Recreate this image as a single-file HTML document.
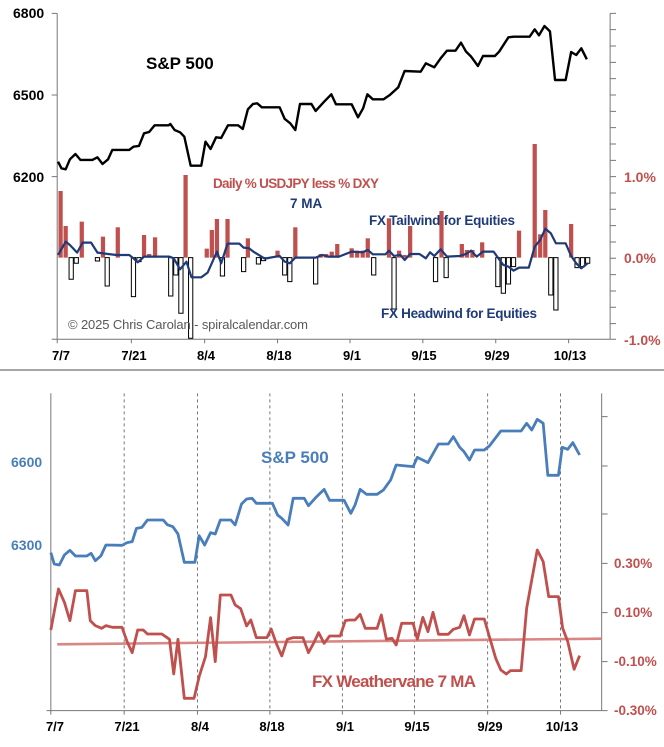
<!DOCTYPE html>
<html><head><meta charset="utf-8"><style>
html,body{margin:0;padding:0;background:#fff;overflow:hidden;}
svg{display:block;}
text{font-family:"Liberation Sans Narrow","Liberation Sans",sans-serif;font-weight:bold;}
.n{vector-effect:non-scaling-stroke;}
</style></head><body>
<svg width="664" height="747" viewBox="0 0 664 747" xmlns="http://www.w3.org/2000/svg">
<rect width="664" height="747" fill="#fff"/>
<line x1="0" y1="370" x2="664" y2="370" stroke="#888" stroke-width="1.5"/>
<!-- TOP CHART data -->
<g transform="scale(0.4237,0.3333)">
  <g stroke="#777" stroke-width="1" fill="none">
    <line class="n" x1="135" y1="40" x2="135" y2="1018"/>
    <line class="n" x1="135" y1="1018" x2="1440" y2="1018"/>
    <line class="n" x1="1440" y1="40" x2="1440" y2="1018"/>
    <path class="n" d="M122 40H135M122 285H135M122 530H135M122 1018H135"/>
    <path class="n" d="M1440 40h14M1440 89h14M1440 138h14M1440 187h14M1440 236h14M1440 285h14M1440 334h14M1440 383h14M1440 432h14M1440 481h14M1440 530h14M1440 579h14M1440 628h14M1440 677h14M1440 726h14M1440 775h14M1440 824h14M1440 873h14M1440 922h14M1440 971h14M1440 1018h14"/>
    <path class="n" d="M135 1018v12M310 1018v12M483 1018v12M655 1018v12M826 1018v12M998 1018v12M1170 1018v12M1342 1018v12"/>
  </g>
  <g id="redbars" fill="#c0504d"></g>
  <g id="whitebars" fill="#fff" stroke="#000"></g>
  <polyline id="ma1" class="n" fill="none" stroke="#1f3a78" stroke-width="2.2" stroke-linejoin="round"/>
  <polyline id="sp1" class="n" fill="none" stroke="#000" stroke-width="2.4" stroke-linejoin="round"/>
</g>
<g font-size="14" fill="#000">
  <text x="13" y="18">6800</text><text x="13" y="100">6500</text><text x="13" y="182">6200</text>
</g>
<g font-size="14" fill="#c0504d">
  <text x="624" y="182">1.0%</text><text x="624" y="263">0.0%</text><text x="624" y="345">-1.0%</text>
</g>
<g font-size="13" fill="#000" text-anchor="middle">
  <text x="61" y="360">7/7</text><text x="134" y="360">7/21</text><text x="206" y="360">8/4</text><text x="279" y="360">8/18</text><text x="352" y="360">9/1</text><text x="424" y="360">9/15</text><text x="497" y="360">9/29</text><text x="570" y="360">10/13</text>
</g>
<text x="146" y="69" font-size="17" fill="#000">S&amp;P 500</text>
<text x="213" y="188" font-size="13.5" fill="#c0504d" textLength="166">Daily % USDJPY less % DXY</text>
<text x="290" y="208" font-size="13.5" fill="#1f3a78">7 MA</text>
<text x="369" y="225" font-size="13.5" fill="#1f3a78" textLength="146">FX Tailwind for Equities</text>
<text x="381" y="318" font-size="13.5" fill="#1f3a78" textLength="156">FX Headwind for Equities</text>
<text x="68" y="329" font-size="13" fill="#595959" style="font-weight:normal" textLength="240">© 2025 Chris Carolan - spiralcalendar.com</text>
<!-- BOTTOM CHART -->
<g transform="translate(0,370) scale(0.4237,0.3333)">
  <g stroke="#555" stroke-width="0.8" stroke-dasharray="3,3">
    <path class="n" d="M293 70V1022M466 70V1022M637 70V1022M808 70V1022M978 70V1022M1151 70V1022M1323 70V1022"/>
  </g>
  <g stroke="#777" stroke-width="1" fill="none">
    <line class="n" x1="120" y1="70" x2="120" y2="1022"/>
    <line class="n" x1="110" y1="1022" x2="1420" y2="1022"/>
    <line class="n" x1="1420" y1="70" x2="1420" y2="1022"/>
    <path class="n" d="M1420 140h14M1420 288h14M1420 432h14M1420 580h14M1420 728h14M1420 875h14M1420 1022h14"/>
    <path class="n" d="M120 1022v12M293 1022v12M466 1022v12M637 1022v12M808 1022v12M978 1022v12M1151 1022v12M1323 1022v12"/>
  </g>
  <line class="n" x1="135" y1="823" x2="1420" y2="806" stroke="#d98785" stroke-width="2.6"/>
  <polyline id="sp2" class="n" fill="none" stroke="#4a7ebb" stroke-width="2.8" stroke-linejoin="round"/>
  <polyline id="ma2" class="n" fill="none" stroke="#c0504d" stroke-width="2.8" stroke-linejoin="round"/>
</g>
<g font-size="14" fill="#4a7ebb"><text x="11" y="467">6600</text><text x="11" y="550">6300</text></g>
<g font-size="13.5" fill="#c0504d">
  <text x="614" y="568">0.30%</text><text x="614" y="617">0.10%</text><text x="614" y="666">-0.10%</text><text x="614" y="715">-0.30%</text>
</g>
<g font-size="13" fill="#000" text-anchor="middle">
  <text x="55" y="731">7/7</text><text x="127" y="731">7/21</text><text x="200" y="731">8/4</text><text x="272" y="731">8/18</text><text x="345" y="731">9/1</text><text x="417" y="731">9/15</text><text x="490" y="731">9/29</text><text x="562" y="731">10/13</text>
</g>
<text x="261" y="463" font-size="17" fill="#4a7ebb">S&amp;P 500</text>
<text x="312" y="687" font-size="17" fill="#c0504d" textLength="164">FX Weathervane 7 MA</text>
<script>
var NS='http://www.w3.org/2000/svg';
function pl(id,a){document.getElementById(id).setAttribute('points',a.map(p=>p.join(',')).join(' '));}
pl('sp1',[[137,485],[145,505],[155,508],[165,478],[178,462],[190,480],[218,480],[230,472],[242,492],[255,478],[265,450],[305,450],[315,440],[328,438],[340,400],[352,396],[365,376],[398,376],[402,372],[412,390],[425,397],[435,410],[450,497],[475,497],[485,425],[497,447],[510,412],[522,414],[538,376],[562,376],[573,387],[585,328],[597,312],[607,310],[618,322],[660,322],[672,357],[685,370],[697,390],[708,312],[735,312],[745,333],[765,305],[782,283],[793,313],[830,313],[845,352],[857,325],[867,283],[880,298],[905,298],[920,285],[940,262],[955,213],[993,215],[1005,190],[1025,202],[1040,175],[1055,152],[1075,152],[1088,128],[1100,155],[1112,170],[1128,198],[1140,168],[1168,168],[1178,155],[1200,112],[1212,110],[1250,110],[1262,88],[1272,106],[1285,78],[1298,94],[1310,240],[1335,240],[1348,156],[1360,165],[1372,145],[1385,178]]);
pl('ma1',[[137,765],[155,725],[165,735],[182,758],[195,728],[215,728],[230,758],[255,762],[275,765],[305,765],[315,775],[325,787],[340,770],[400,770],[410,775],[425,808],[440,785],[452,832],[475,832],[490,818],[505,775],[512,755],[522,790],[537,731],[565,731],[575,743],[588,745],[598,755],[625,776],[660,768],[672,785],[684,790],[697,773],[745,773],[760,765],[775,770],[800,770],[830,755],[856,757],[868,750],[880,763],[910,763],[918,752],[930,768],[945,765],[955,780],[968,762],[990,762],[1005,775],[1015,757],[1025,768],[1040,748],[1055,770],[1085,768],[1100,762],[1112,752],[1125,770],[1140,755],[1165,755],[1178,778],[1188,795],[1200,800],[1212,812],[1225,803],[1248,803],[1262,740],[1275,720],[1287,686],[1300,700],[1312,730],[1335,730],[1348,768],[1360,790],[1372,805],[1387,790]]);
function bar(g,x,y,h,stroke){var e=document.createElementNS(NS,'rect');e.setAttribute('x',x-5);e.setAttribute('y',y);e.setAttribute('width',10);e.setAttribute('height',h);if(stroke){e.setAttribute('class','n');e.setAttribute('stroke-width','1');}g.appendChild(e);}
var r=[[143,573],[155,678],[193,665],[243,710],[278,682],[340,705],[352,762],[366,712],[438,525],[488,746],[500,690],[512,657],[537,657],[585,715],[655,752],[697,682],[707,770],[757,762],[770,762],[783,755],[796,732],[830,745],[843,752],[856,752],[868,715],[918,655],[942,752],[955,765],[968,678],[1042,633],[1090,732],[1102,750],[1115,750],[1138,727],[1225,692],[1262,432],[1275,703],[1287,630],[1348,672]];
var gr=document.getElementById('redbars');r.forEach(p=>bar(gr,p[0],p[1],773-p[1],false));
var w=[[168,838],[180,790],[230,783],[253,858],[315,890],[328,785],[403,888],[415,825],[427,940],[450,1015],[525,828],[575,815],[610,792],[622,782],[672,825],[684,845],[745,852],[882,825],[930,927],[1028,845],[1053,833],[1175,860],[1188,880],[1200,852],[1212,800],[1300,885],[1312,930],[1362,803],[1375,800],[1387,790]];
var gw=document.getElementById('whitebars');w.forEach(p=>bar(gw,p[0],773,p[1]-773,true));
pl('sp2',[[120,548],[128,582],[140,585],[152,555],[165,541],[178,558],[205,558],[215,550],[225,572],[238,558],[250,525],[288,526],[300,518],[312,515],[322,475],[335,472],[348,450],[385,450],[395,464],[408,470],[420,492],[435,577],[460,577],[470,497],[483,525],[497,488],[508,492],[520,450],[545,450],[555,465],[570,402],[582,387],[595,385],[605,400],[643,400],[655,435],[665,445],[680,465],[692,385],[718,385],[728,407],[745,383],[765,358],[778,391],[812,391],[828,430],[838,405],[850,358],[865,373],[890,373],[905,360],[922,330],[935,285],[975,290],[985,262],[1010,278],[1035,222],[1058,222],[1070,200],[1085,232],[1095,245],[1108,270],[1120,240],[1143,240],[1155,228],[1182,183],[1230,183],[1243,160],[1255,180],[1268,148],[1282,160],[1293,316],[1318,316],[1327,232],[1340,238],[1352,218],[1368,255]]);
pl('ma2',[[120,780],[138,657],[152,697],[165,752],[178,662],[205,662],[213,752],[225,767],[240,775],[250,767],[265,772],[288,772],[300,815],[312,848],[325,780],[338,780],[348,792],[382,792],[400,808],[410,912],[420,808],[435,985],[458,985],[470,920],[485,860],[497,743],[508,875],[520,675],[545,675],[555,705],[568,716],[582,768],[592,750],[605,803],[630,803],[640,777],[652,820],[665,858],[678,808],[692,803],[715,803],[728,848],[740,820],[752,788],[765,820],[778,798],[803,798],[815,752],[825,750],[838,750],[850,733],[862,775],[890,775],[900,735],[912,808],[925,805],[935,825],[948,760],[975,760],[985,808],[998,742],[1010,785],[1022,727],[1035,793],[1058,793],[1070,778],[1085,772],[1095,737],[1108,795],[1120,747],[1143,747],[1155,800],[1170,865],[1182,900],[1195,912],[1205,902],[1230,902],[1243,715],[1255,630],[1268,540],[1282,575],[1295,680],[1318,680],[1328,775],[1340,815],[1355,898],[1368,857]]);
</script>
</svg>
</body></html>
